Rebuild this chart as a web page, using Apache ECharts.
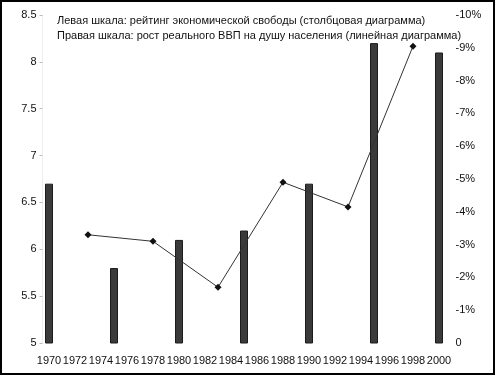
<!DOCTYPE html>
<html><head><meta charset="utf-8">
<script src="https://cdn.jsdelivr.net/npm/echarts@6/dist/echarts.min.js"></script>
<style>html,body{margin:0;padding:0;background:#fff}#c{width:495px;height:375px}</style>
</head><body><div id="c"></div>
<script>
const years = [1970,1971,1972,1973,1974,1975,1976,1977,1978,1979,1980,1981,1982,1983,1984,1985,1986,1987,1988,1989,1990,1991,1992,1993,1994,1995,1996,1997,1998,1999,2000];
const barYears = [1970,1975,1980,1985,1990,1995,2000];
const freedomRating = [6.7,5.8,6.1,6.2,6.7,8.2,8.1];
const lineYears = [1973,1978,1983,1988,1993,1998];
const gdpGrowth = [3.3,3.1,1.7,4.9,4.15,9.05];
const legendLines = ['Левая шкала: рейтинг экономической свободы (столбцовая диаграмма)','Правая шкала: рост реального ВВП на душу населения (линейная диаграмма)'];

const barData = years.map(y => { const i = barYears.indexOf(y); return i >= 0 ? freedomRating[i] : null; });
const lineData = years.map(y => { const i = lineYears.indexOf(y); return i >= 0 ? gdpGrowth[i] : null; });
const font = 'Liberation Sans';
const chart = echarts.init(document.getElementById('c'));
chart.setOption({
  animation:false,
  textStyle:{fontFamily:font},
  title:{text:legendLines.join('\n'),left:52,top:8,textStyle:{fontFamily:font,fontSize:11,fontWeight:'normal',color:'#111',lineHeight:15}},
  grid:{left:42.5,right:49.5,top:15,bottom:32},
  xAxis:{type:'category',data:years.map(String),boundaryGap:true,
    axisLine:{show:false},axisTick:{show:false},
    axisLabel:{interval:1,fontSize:11,color:'#111',margin:12,fontFamily:font}},
  yAxis:[
    {type:'value',min:5,max:8.5,interval:0.5,splitLine:{show:false},
      axisLine:{show:true,lineStyle:{color:'#eeeeee'}},axisTick:{show:true,length:3,lineStyle:{color:'#bbbbbb'}},
      axisLabel:{fontSize:11,color:'#111',margin:6,fontFamily:font}},
    {type:'value',min:0,max:10,interval:1,position:'right',splitLine:{show:false},
      axisLine:{show:false},axisTick:{show:false},
      axisLabel:{fontSize:11,color:'#111',margin:10,fontFamily:font,formatter:v=>v===0?'0':'-'+v+'%'}}
  ],
  series:[
    {type:'bar',yAxisIndex:0,data:barData,barWidth:8,
      itemStyle:{color:'#3a3a3a',borderColor:'#1c1c1c',borderWidth:1}},
    {type:'line',yAxisIndex:1,data:lineData,connectNulls:true,
      symbol:'diamond',symbolSize:7,showSymbol:true,
      lineStyle:{color:'#333',width:1},itemStyle:{color:'#111'}}
  ],
  graphic:[{type:'rect',shape:{x:1,y:1,width:493,height:373},style:{fill:null,stroke:'#000',lineWidth:2},z:100}]
});
</script></body></html>
